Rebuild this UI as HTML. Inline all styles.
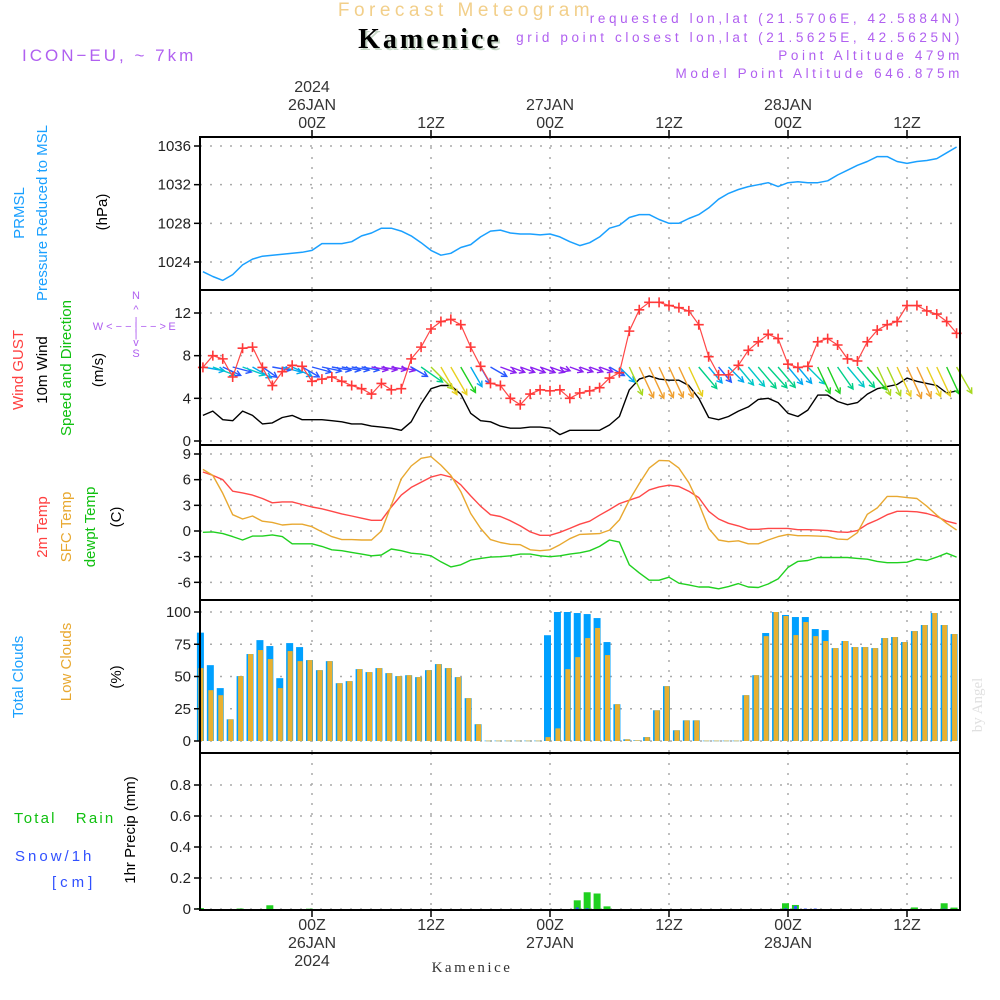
<!DOCTYPE html>
<html><head><meta charset="utf-8"><style>
html,body{margin:0;padding:0;background:#fff;}
svg{display:block;font-family:"Liberation Sans",sans-serif;}
.tk{font-size:15px;fill:#222;text-anchor:end;}
.ax{font-size:16px;fill:#333;text-anchor:middle;}
.pu{font-size:13.5px;fill:#b060f0;letter-spacing:3.6px;text-anchor:end;}
</style></head><body>
<svg id="chart" width="1000" height="1000" viewBox="0 0 1000 1000">
<text x="466" y="16" font-size="19" fill="#f2cf8a" text-anchor="middle" letter-spacing="4.5">Forecast Meteogram</text>
<text x="432" y="50" font-size="28" font-weight="bold" fill="#c8d8c8" text-anchor="middle" letter-spacing="3" font-family="Liberation Serif,serif">Kamenice</text>
<text x="430" y="48" font-size="28" font-weight="bold" fill="#000" text-anchor="middle" letter-spacing="3" font-family="Liberation Serif,serif">Kamenice</text>
<text x="22" y="61" font-size="17" fill="#b060f0" letter-spacing="3">ICON−EU, ~ 7km</text>
<text x="963" y="23" class="pu">requested lon,lat (21.5706E, 42.5884N)</text>
<text x="963" y="42" class="pu">grid point closest lon,lat (21.5625E, 42.5625N)</text>
<text x="963" y="60" class="pu">Point Altitude 479m</text>
<text x="963" y="78" class="pu">Model Point Altitude 646.875m</text>

<g id="toplabels">
<text x="312" y="92" class="ax">2024</text><text x="312" y="110" class="ax">26JAN</text><text x="312" y="128" class="ax">00Z</text>
<text x="431" y="128" class="ax">12Z</text>
<text x="550" y="110" class="ax">27JAN</text><text x="550" y="128" class="ax">00Z</text>
<text x="669" y="128" class="ax">12Z</text>
<text x="788" y="110" class="ax">28JAN</text><text x="788" y="128" class="ax">00Z</text>
<text x="907" y="128" class="ax">12Z</text>
</g>
<g id="botlabels">
<text x="312" y="930" class="ax">00Z</text><text x="312" y="948" class="ax">26JAN</text><text x="312" y="966" class="ax">2024</text>
<text x="431" y="930" class="ax">12Z</text>
<text x="550" y="930" class="ax">00Z</text><text x="550" y="948" class="ax">27JAN</text>
<text x="669" y="930" class="ax">12Z</text>
<text x="788" y="930" class="ax">00Z</text><text x="788" y="948" class="ax">28JAN</text>
<text x="907" y="930" class="ax">12Z</text>
</g>
<text x="472" y="972" font-size="15" fill="#333" text-anchor="middle" font-family="Liberation Serif,serif" letter-spacing="2.5">Kamenice</text>

<g font-size="15" text-anchor="middle">
<text transform="translate(24,213) rotate(-90)" fill="#1aa0ff">PRMSL</text>
<text transform="translate(47,213) rotate(-90)" fill="#1aa0ff">Pressure Reduced to MSL</text>
<text transform="translate(107,212) rotate(-90)" fill="#000">(hPa)</text>
<text transform="translate(23,370) rotate(-90)" fill="#ff4040">Wind GUST</text>
<text transform="translate(47,370) rotate(-90)" fill="#000">10m Wind</text>
<text transform="translate(71,368) rotate(-90)" fill="#10c010">Speed and Direction</text>
<text transform="translate(103,370) rotate(-90)" fill="#000">(m/s)</text>
<text transform="translate(47,527) rotate(-90)" fill="#ff4040">2m Temp</text>
<text transform="translate(71,527) rotate(-90)" fill="#e8a830">SFC Temp</text>
<text transform="translate(95,527) rotate(-90)" fill="#10c010">dewpt Temp</text>
<text transform="translate(121,517) rotate(-90)" fill="#000">(C)</text>
<text transform="translate(23,677) rotate(-90)" fill="#1aa0ff">Total Clouds</text>
<text transform="translate(71,662) rotate(-90)" fill="#e8a830">Low Clouds</text>
<text transform="translate(121,677) rotate(-90)" fill="#000">(%)</text>
<text transform="translate(135,830) rotate(-90)" fill="#000">1hr Precip (mm)</text>
<text x="14" y="823" fill="#10c010" text-anchor="start" letter-spacing="2.2">Total&#160;&#160;&#160;Rain</text>
<text x="15" y="861" fill="#3050ff" text-anchor="start" letter-spacing="3">Snow/1h</text>
<text x="52" y="887" fill="#3050ff" text-anchor="start" letter-spacing="4">[cm]</text>
</g>
<g font-size="11" fill="#b060f0" text-anchor="middle">
<text x="136" y="299">N</text><text x="136" y="313">^</text><text x="136" y="325">|</text>
<text x="136" y="337">|</text><text x="136" y="346">v</text><text x="136" y="357">S</text>
<text x="98" y="330">W</text><text x="172" y="330">E</text>
<text x="136" y="330">&lt; − − | − − &gt;</text>
</g>
<text transform="translate(982,705) rotate(-90)" font-size="15" fill="#e0e0e0" text-anchor="middle" font-family="Liberation Serif,serif">by Angel</text>

<g id="grid"></g>
<g id="marks"></g>
<g id="frame"></g>
</svg>
<script>
var startHour = -11;
var pres = [1023.0,1022.5,1022.1,1022.7,1023.7,1024.3,1024.6,1024.7,1024.8,1024.9,1025.0,
1025.2,1025.9,1025.9,1025.9,1026.1,1026.7,1027.0,1027.5,1027.5,1027.2,1026.7,1026.0,
1025.2,1024.7,1024.9,1025.5,1025.8,1026.6,1027.2,1027.3,1027.0,1026.9,1026.9,1026.8,
1026.9,1026.6,1026.1,1025.7,1026.0,1026.6,1027.5,1027.8,1028.6,1028.9,1028.9,1028.4,
1028.0,1028.0,1028.5,1028.9,1029.6,1030.5,1031.1,1031.5,1031.8,1032.0,1032.2,1031.8,
1032.2,1032.3,1032.2,1032.2,1032.4,1033.0,1033.5,1034.0,1034.4,1034.9,1034.9,1034.4,
1034.2,1034.4,1034.5,1034.7,1035.3,1035.9];
var gust = [6.9,8.0,7.7,6.0,8.7,8.8,6.9,5.2,6.5,7.1,7.0,
5.6,5.8,6.0,5.6,5.2,4.9,4.4,5.4,4.8,4.9,7.7,8.8,
10.5,11.2,11.4,10.9,8.8,7.0,5.4,5.2,4.0,3.4,4.4,4.8,
4.7,4.8,4.0,4.5,4.7,5.0,5.9,6.4,10.3,12.3,13.0,13.0,
12.7,12.5,12.2,10.9,7.9,6.2,6.2,7.1,8.5,9.3,10.0,9.6,
7.2,6.9,7.0,9.3,9.6,9.0,7.7,7.5,9.3,10.4,10.9,11.2,
12.7,12.7,12.2,11.9,11.2,10.1];
var wspd = [2.4,2.8,2.0,1.9,2.8,2.4,1.6,1.7,2.2,2.4,2.0,
2.0,2.0,1.9,1.8,1.6,1.6,1.4,1.3,1.2,1.0,1.8,3.5,
4.9,5.2,5.2,4.4,2.6,1.9,1.8,1.4,1.2,1.2,1.3,1.3,
1.2,0.6,1.0,1.0,1.0,1.0,1.5,2.3,4.8,5.8,6.1,5.8,
5.7,5.7,5.2,4.0,2.2,2.0,2.3,2.8,3.2,3.9,4.0,3.6,
2.6,2.3,2.9,4.3,4.3,3.7,3.4,3.6,4.4,4.9,5.1,5.3,
5.9,5.6,5.4,5.2,4.5,4.7];
var wdir = [280,290,295,285,290,300,305,280,285,295,300,
285,282,280,280,280,280,280,280,280,285,300,305,
315,330,330,330,330,330,300,290,290,290,290,290,
290,290,290,290,290,290,300,315,335,335,335,335,
335,335,335,320,320,320,315,320,320,320,318,320,
320,320,315,335,335,325,320,320,320,335,335,335,
335,335,335,335,335,330];
var t2m = [6.9,6.5,6.0,4.65,4.45,4.2,3.8,3.3,3.4,3.4,3.1,
2.8,2.6,2.3,2.0,1.75,1.5,1.25,1.25,2.8,4.2,5.1,5.7,
6.3,6.6,6.3,5.4,4.1,2.9,1.9,1.7,1.2,0.6,-0.1,-0.5,
-0.5,-0.15,0.3,0.8,1.15,1.85,2.5,3.2,3.6,4.0,4.8,5.15,
5.35,5.2,4.65,3.9,2.3,1.4,0.9,0.6,0.2,0.2,0.3,0.3,
0.3,0.15,0.15,0.1,0.05,-0.1,-0.15,0.05,0.8,1.3,1.9,2.3,
2.3,2.25,2.05,1.7,1.15,0.85];
var tsfc = [7.2,6.5,4.4,1.9,1.4,1.75,1.15,1.0,0.7,0.8,0.8,
0.5,-0.1,-0.65,-1.0,-1.0,-1.05,-1.05,0,3.0,6.1,7.6,8.5,
8.7,7.7,6.5,4.6,2.05,0.3,-1.0,-1.35,-1.55,-1.6,-2.2,-2.3,
-2.2,-1.6,-0.9,-0.4,-0.35,-0.3,0.1,1.3,3.6,5.55,7.35,8.25,
8.2,7.35,5.65,3.2,0.3,-1.05,-1.25,-1.15,-1.5,-1.5,-1.05,-0.65,
-0.4,-0.55,-0.55,-0.6,-0.65,-0.95,-1.0,-0.2,1.95,2.7,4.05,4.05,
3.9,3.8,2.9,1.85,0.9,0.1];
var tdew = [-0.15,-0.1,-0.3,-0.65,-1.05,-0.6,-0.6,-0.45,-0.65,-1.5,-1.5,
-1.5,-1.8,-2.2,-2.3,-2.5,-2.7,-2.9,-2.8,-2.1,-2.3,-2.6,-2.7,
-2.9,-3.6,-4.2,-3.95,-3.4,-3.2,-3.05,-3.0,-2.9,-2.7,-2.7,-2.9,
-3.0,-2.9,-2.7,-2.55,-2.3,-1.8,-1.05,-1.3,-3.95,-4.9,-5.75,-5.75,
-5.4,-6.1,-6.3,-6.55,-6.55,-6.75,-6.5,-6.15,-6.55,-6.6,-6.2,-5.6,
-4.25,-3.55,-3.45,-3.1,-3.1,-3.1,-3.1,-3.2,-3.3,-3.55,-3.7,-3.7,
-3.65,-3.3,-3.45,-3.05,-2.6,-3.05];
var cloudTotal = [84,58.8,41,16.8,50.3,67.4,78.2,73.6,48.7,75.9,72.8,
62.7,54.9,61.9,44.8,46.4,55.7,53.4,56.5,52.6,50.3,51,49.5,
54.9,59.6,56.5,49.5,33.2,13,0.3,0.3,0.3,0.3,0.3,0.3,
82,100,100,99.2,98.4,95.3,76.7,28.5,1.3,0.5,3,23.8,
42.5,8.3,16,16,0.3,0.3,0.3,0.3,35.5,51,83.7,100,
97.7,96.1,96.1,86.8,86,72,77.5,72.8,72.8,72,79.8,80.6,
76.7,85.2,89.9,99.2,89.9,82.9];
var cloudLow = [56.5,39.4,35.5,16.8,50.3,67.4,70.5,63.5,41,69.7,61.9,
62.7,54.9,61.9,44.8,46.4,55.7,53.4,56.5,52.6,50.3,51,49.5,
54.9,59.6,56.5,49.5,33.2,13,0.3,0.3,0.3,0.3,0.3,0.3,
3,9.8,55.7,65,79.8,87.6,66.6,28.5,1.3,0.5,3,23.8,
42.5,8.3,16,16,0.3,0.3,0.3,0.3,35.5,51,81.3,100,
96.9,82.1,92.2,81.3,77.5,72,77.5,72.8,72.8,72,79.8,80.6,
76.7,85.2,89.9,99.2,89.9,82.9];
var rain = [0.006,0,0,0,0.003,0,0,0.024,0,0,0,
0.002,0,0,0,0,0,0,0,0,0,0,0,
0,0,0,0,0,0,0,0,0,0,0,0,
0,0,0,0.056,0.108,0.1,0.017,0,0,0,0,0,
0,0,0,0,0,0,0,0,0,0,0,0,
0.037,0.026,0,0,0,0,0,0,0,0,0,0,
0,0.01,0,0,0.037,0.009];
var snow = [0,0,0,0,0,0,0,0,0,0,0,
0,0,0,0,0,0,0,0,0,0,0,0,
0,0,0,0,0,0,0,0,0,0,0,0,
0,0,0,0.01,0.005,0,0,0,0,0,0,0,
0,0,0,0,0,0,0,0,0,0,0,0,
0.005,0.02,0.003,0.003,0,0,0,0,0,0,0,0,
0,0,0,0,0.003,0];
var timeTicks = [0,12,24,36,48,60];
var presTicks = [1024,1028,1032,1036];
var windTicks = [0,4,8,12];
var tempTicks = [-6,-3,0,3,6,9];
var cloudTicks = [0,25,50,75,100];
var precipTicks = [0,0.2,0.4,0.6,0.8];

var NS = 'http://www.w3.org/2000/svg';
var L = 200, R = 960;
function X(h){ return 312 + h * 119 / 12; }
function lin(d0,d1,r0,r1){ return function(v){ return r0 + (v - d0) * (r1 - r0) / (d1 - d0); }; }
var yP = lin(1024,1036,262,146);
var yW = lin(0,12,441,313);
var yT = lin(0,9,531,454);
var yC = lin(0,100,741,612);
var yR = lin(0,0.8,909,785);
var panels = [[137,290],[290,445],[445,600],[600,753],[753,910]];
function el(tag, attrs, parent){
  var e = document.createElementNS(NS, tag);
  for (var k in attrs) e.setAttribute(k, attrs[k]);
  parent.appendChild(e); return e;
}
var grid = document.getElementById('grid'), marks = document.getElementById('marks'), frame = document.getElementById('frame');

panels.forEach(function(p){
  timeTicks.forEach(function(h){
    var g = el('line',{x1:X(h),x2:X(h),y1:p[0],y2:p[1],stroke:'#aaa','stroke-width':1.5,'stroke-dasharray':'2 8'},grid);
    
    
  });
});
function yaxis(ticks, sc, fmt, name){
  ticks.forEach(function(t){
    var y = sc(t);
    var g = el('line',{x1:L,x2:R,y1:y,y2:y,stroke:'#aaa','stroke-width':1.5,'stroke-dasharray':'2 8'},grid);
    
    
    el('line',{x1:L-6,x2:L,y1:y,y2:y,stroke:'#000','stroke-width':1.5},frame);
    var tx = el('text',{x:L-9,y:y+5,'class':'tk'},frame);
    tx.textContent = fmt(t);
    
    
  });
}
yaxis(presTicks, yP, function(v){return v;}, 'pressure');
yaxis(windTicks, yW, function(v){return v;}, 'wind');
yaxis(tempTicks, yT, function(v){return v;}, 'temp');
yaxis(cloudTicks, yC, function(v){return v;}, 'cloud');
yaxis(precipTicks, yR, function(v){return v===0?'0':v.toFixed(1);}, 'precip');

function pts(arr, sc){ return arr.map(function(v,i){ return X(startHour+i).toFixed(1)+','+sc(v).toFixed(1); }).join(' '); }
function line(arr, sc, color, name, w){
  var p = el('polyline',{points:pts(arr,sc),fill:'none',stroke:color,'stroke-width':w||1.4,'stroke-linejoin':'round'},marks);
  
  
}
cloudTotal.forEach(function(v,i){
  var x = X(startHour+i);
  var b = el('rect',{x:x-6,y:yC(v),width:7,height:Math.max(0.6,yC(0)-yC(v)),fill:'#00a0ff'},marks);
  
  
});
cloudLow.forEach(function(v,i){
  var x = X(startHour+i);
  var b = el('rect',{x:x-4.5,y:yC(v),width:5,height:Math.max(0.6,yC(0)-yC(v)),fill:'#e8b030'},marks);
  
  
});
rain.forEach(function(v,i){
  if (v<=0) return;
  var x = X(startHour+i);
  var b = el('rect',{x:x-6,y:yR(v),width:7,height:yR(0)-yR(v),fill:'#20d020'},marks);
  
  
});
snow.forEach(function(v,i){
  if (v<=0) return;
  var x = X(startHour+i);
  var b = el('rect',{x:x-4,y:yR(v),width:3,height:yR(0)-yR(v),fill:'#3050ff'},marks);
  
  
});
line(pres, yP, '#1aa0ff', 'pressure-line', 1.5);
line(t2m, yT, '#ff4848', 't2m-line');
line(tsfc, yT, '#e8a830', 'tsfc-line');
line(tdew, yT, '#20d020', 'dewpoint-line');
line(wspd, yW, '#000', 'wind-speed-line');
function wcol(s){
  if (s<1.5) return '#8a20f0';
  if (s<2.2) return '#2858ff';
  if (s<2.8) return '#00a8f0';
  if (s<3.5) return '#00c8c8';
  if (s<4.2) return '#00d088';
  if (s<4.7) return '#20d020';
  if (s<5.2) return '#a8d820';
  if (s<5.6) return '#e8d020';
  return '#f0a030';
}
wdir.forEach(function(d,i){
  var s = wspd[i], x0 = X(startHour+i), y0 = 367;
  var a = (d + 180) * Math.PI / 180;
  var len = 14 * Math.sqrt(s);
  var dx = Math.sin(a), dy = -Math.cos(a);
  var x1 = x0 + dx*len, y1 = y0 + dy*len;
  var c = wcol(s);
  var g = el('g',{stroke:c,'stroke-width':1.4,fill:'none'},marks);
  
  
  el('line',{x1:x0,y1:y0,x2:x1,y2:y1},g);
  var hl = 6, ha = 0.5;
  var bx = -dx, by = -dy;
  var l1x = x1 + hl*(bx*Math.cos(ha) - by*Math.sin(ha)), l1y = y1 + hl*(bx*Math.sin(ha) + by*Math.cos(ha));
  var l2x = x1 + hl*(bx*Math.cos(-ha) - by*Math.sin(-ha)), l2y = y1 + hl*(bx*Math.sin(-ha) + by*Math.cos(-ha));
  el('polyline',{points:l1x+','+l1y+' '+x1+','+y1+' '+l2x+','+l2y},g);
});
line(gust, yW, '#ff4848', 'gust-line', 1.2);
gust.forEach(function(v,i){
  var x = X(startHour+i), y = yW(v);
  var g = el('path',{d:'M'+(x-5)+' '+y+'h10M'+x+' '+(y-5)+'v10',stroke:'#ff3838','stroke-width':1.6},marks);
  
  
});
var fr = el('rect',{x:L,y:137,width:R-L,height:910-137,fill:'none',stroke:'#000','stroke-width':2},frame);


[290,445,600,753].forEach(function(y){
  var s = el('line',{x1:L,x2:R,y1:y,y2:y,stroke:'#000','stroke-width':2},frame);
  
  
});
timeTicks.forEach(function(h){
  el('line',{x1:X(h),x2:X(h),y1:130,y2:137,stroke:'#000','stroke-width':1.5},frame);
  el('line',{x1:X(h),x2:X(h),y1:910,y2:917,stroke:'#000','stroke-width':1.5},frame);
});
</script>
</body></html>
